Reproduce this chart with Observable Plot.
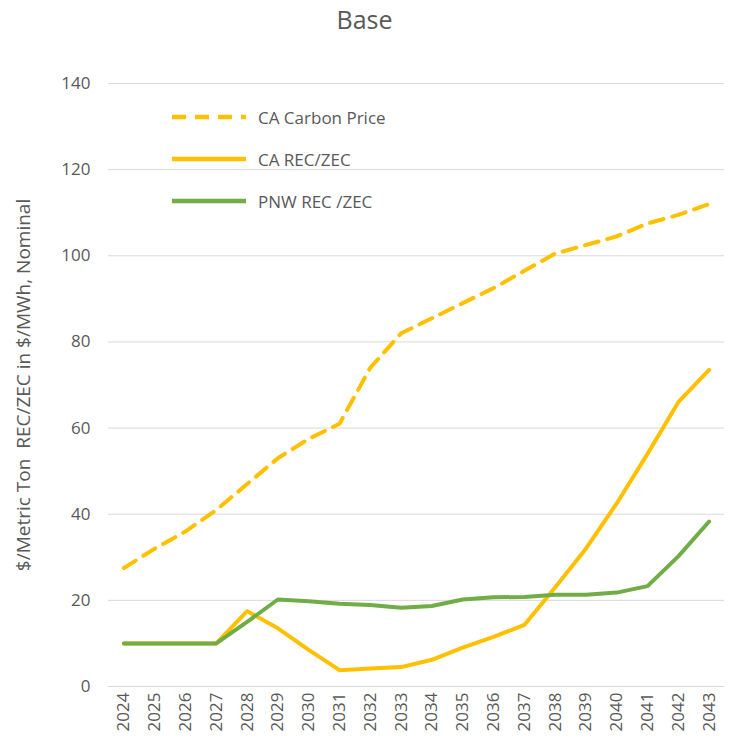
<!DOCTYPE html>
<html><head>
<script src="https://cdn.jsdelivr.net/npm/d3@7"></script>
<script src="https://cdn.jsdelivr.net/npm/@observablehq/plot@0.6"></script>
<style>
body{margin:0;background:#fff;font-family:"Open Sans",sans-serif;}
#wrap{position:relative;width:729px;}
#title{height:40px;text-align:center;font-size:25px;color:#595959;line-height:38px;}
#legend{position:absolute;left:172px;top:96px;font-size:17px;color:#595959;}
#legend div{height:42px;display:flex;align-items:center;}
#legend svg{margin-right:12px;}
#chart svg g[aria-label="y-axis label"] text{font-size:19px;}
</style></head><body>
<div id="wrap"><div id="title">Base</div><div id="chart"></div>
<div id="legend">
<div><svg width="74" height="6"><line x1="0" x2="74" y1="3" y2="3" stroke="#FFC000" stroke-width="4.5" stroke-dasharray="14,9"/></svg>CA Carbon Price</div>
<div><svg width="74" height="6"><line x1="0" x2="74" y1="3" y2="3" stroke="#FFC000" stroke-width="4.5"/></svg>CA REC/ZEC</div>
<div><svg width="74" height="6"><line x1="0" x2="74" y1="3" y2="3" stroke="#70AD47" stroke-width="4.5"/></svg>PNW REC /ZEC</div>
</div></div>
<script>
const years=d3.range(2024,2044);
const caCarbon=[27.5,32,36,41,47,53,57.5,61,74,82,85.5,89,92.5,96.5,100.5,102.5,104.5,107.5,109.5,112];
const caRec=[10,10,10,10,17.5,13.5,8.5,3.8,4.2,4.5,6.2,9,11.5,14.3,23,32,42.5,54,66,73.5];
const pnwRec=[10,10,10,10,15,20.2,19.8,19.2,18.9,18.3,18.7,20.2,20.7,20.8,21.3,21.3,21.8,23.3,30.2,38.3];
const yTicks=[0,20,40,60,80,100,120,140];
const mk=v=>years.map((y,i)=>({year:y,v:v[i]}));
const p=Plot.plot({width:729,height:714,marginTop:43,marginBottom:68,marginLeft:108,marginRight:5,
style:{fontFamily:"Open Sans",fontSize:"17px",color:"#595959"},
x:{domain:[2023.5,2043.5],label:null},
y:{domain:[0,140],label:null},
marks:[
Plot.gridY(yTicks,{stroke:"#d9d9d9",strokeOpacity:1}),
Plot.ruleY([0],{stroke:"#d9d9d9"}),
Plot.axisX(years,{tickSize:0,tickRotate:-90,tickPadding:6,tickFormat:d=>String(d),label:null}),
Plot.axisY(yTicks,{tickSize:0,tickPadding:18,label:"$/Metric Ton  REC/ZEC in $/MWh, Nominal",labelArrow:"none",labelAnchor:"center",labelOffset:92}),
Plot.line(mk(caCarbon),{x:"year",y:"v",stroke:"#FFC000",strokeWidth:4,strokeDasharray:"14,9"}),
Plot.line(mk(caRec),{x:"year",y:"v",stroke:"#FFC000",strokeWidth:4}),
Plot.line(mk(pnwRec),{x:"year",y:"v",stroke:"#70AD47",strokeWidth:4})
]});
document.getElementById("chart").appendChild(p);
</script></body></html>
